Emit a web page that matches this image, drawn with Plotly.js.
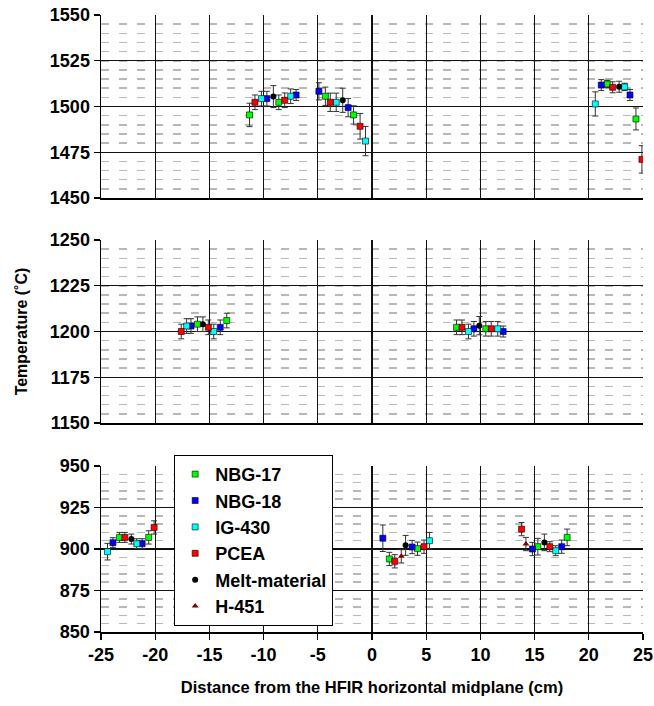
<!DOCTYPE html>
<html>
<head>
<meta charset="utf-8">
<script src="https://cdn.plot.ly/plotly-3.0.1.min.js"></script>
<style>html,body{margin:0;padding:0;background:#fff;}#chart{width:654px;height:706px;}</style>
</head>
<body>
<div id="chart"></div>
<script>
// panel: 0 = bottom (850-950), 1 = middle (1150-1250), 2 = top (1450-1550)
const seriesNames = ["NBG-17", "NBG-18", "IG-430", "PCEA", "Melt-material", "H-451"];

const nbg17X = [-11.3, -8.6, -4.3, -1.7, 21.7, 24.35, -16.1, -13.4, 7.8, 10.5, -23.3, -20.6, 1.6, 4.2, 15.3, 18.0];
const nbg17Y = [1495.4, 1502.3, 1505.6, 1495.4, 1512.3, 1493.2, 1204, 1206, 1202.3, 1201.5, 907, 907, 894, 900.2, 901.4, 907];
const nbg17E = [6.4, 4, 5, 5, 2, 6, 4, 4, 4, 4, 3, 4, 4, 4, 5, 5];
const nbg17P = [2, 2, 2, 2, 2, 2, 1, 1, 1, 1, 0, 0, 0, 0, 0, 0];

const nbg18X = [-9.7, -7.0, -4.9, -2.2, 21.15, 23.8, -16.7, -14.0, 9.4, 12.1, -23.9, -21.2, 1.0, 3.7, 14.8, 17.5];
const nbg18Y = [1504.3, 1506.3, 1508.3, 1499.4, 1511.7, 1506.3, 1203, 1202.3, 1201.5, 1200, 903.8, 903.2, 906.5, 901.2, 900, 901.4];
const nbg18E = [4, 3, 4.7, 5, 3, 3, 4, 4, 4, 3, 3, 3, 8, 4, 4, 4];
const nbg18P = [2, 2, 2, 2, 2, 2, 1, 1, 1, 1, 0, 0, 0, 0, 0, 0];

const ig430X = [-10.2, -7.5, -3.3, -0.6, 20.6, 23.3, -17.1, -14.6, 8.9, 11.6, -24.4, -21.7, 5.3, 16.95];
const ig430Y = [1504.3, 1505.6, 1502.3, 1481.1, 1501.4, 1510.7, 1203, 1200, 1200, 1201.5, 898.4, 903.2, 905, 899];
const ig430E = [4, 4, 5, 8, 6.6, 2, 4, 4, 4, 4, 5, 3, 5, 3];
const ig430P = [2, 2, 2, 2, 2, 2, 1, 1, 1, 1, 0, 0, 0, 0];

const pceaX = [-10.8, -8.05, -3.85, -1.1, 22.2, 24.9, -17.6, -15.1, 8.3, 11.0, -22.8, -20.1, 2.1, 4.8, 13.8, 16.4];
const pceaY = [1502.3, 1503.4, 1502.3, 1489.2, 1510.5, 1471.1, 1200, 1202.3, 1202.3, 1201.5, 907, 913, 892.6, 901.4, 912, 901.4];
const pceaE = [4, 4, 5, 7, 3, 7.5, 4, 4, 4, 4, 3, 4, 4, 4, 4, 3];
const pceaP = [2, 2, 2, 2, 2, 2, 1, 1, 1, 1, 0, 0, 0, 0, 0, 0];

const meltX = [-9.1, -2.7, 22.8, -15.6, 9.9, -22.2, 3.1, 15.9];
const meltY = [1505.4, 1503.4, 1510.8, 1204, 1203.2, 906, 902.2, 904];
const meltE = [6, 6.6, 3, 4, 5, 3, 6, 5];
const meltP = [2, 2, 2, 1, 1, 0, 0, 0];

const h451X = [2.7, 14.2];
const h451Y = [895.6, 903];
const h451E = [4, 4];
const h451P = [0, 0];

const xTickVals = [-25, -20, -15, -10, -5, 0, 5, 10, 15, 20, 25];
const xTickText = ["-25", "-20", "-15", "-10", "-5", "0", "5", "10", "15", "20", "25"];
const bottomTicks = [850, 875, 900, 925, 950];
const middleTicks = [1150, 1175, 1200, 1225, 1250];
const topTicks = [1450, 1475, 1500, 1525, 1550];

const styles = [
  {symbol: "square", color: "#00ff00", size: 6, line: {color: "#000", width: 0.6}},
  {symbol: "square", color: "#0000ff", size: 6, line: {color: "#000", width: 0.6}},
  {symbol: "square", color: "#00ffff", size: 6, line: {color: "#000", width: 0.6}},
  {symbol: "square", color: "#ff0000", size: 6, line: {color: "#000", width: 0.6}},
  {symbol: "circle", color: "#000000", size: 6, line: {color: "#000", width: 0}},
  {symbol: "triangle-up", color: "#800000", size: 6, line: {color: "#000", width: 0}}
];
const allData = [
  [nbg17X, nbg17Y, nbg17E, nbg17P],
  [nbg18X, nbg18Y, nbg18E, nbg18P],
  [ig430X, ig430Y, ig430E, ig430P],
  [pceaX, pceaY, pceaE, pceaP],
  [meltX, meltY, meltE, meltP],
  [h451X, h451Y, h451E, h451P]
];
const axisFor = [["x", "y"], ["x2", "y2"], ["x3", "y3"]];

const traces = [];
allData.forEach(function (d, si) {
  [0, 1, 2].forEach(function (p) {
    const xs = [], ys = [], es = [];
    d[3].forEach(function (pp, i) { if (pp === p) { xs.push(d[0][i]); ys.push(d[1][i]); es.push(d[2][i]); } });
    if (!xs.length) return;
    traces.push({
      type: "scatter", mode: "markers", name: "<b>" + seriesNames[si] + "</b>", legendgroup: seriesNames[si],
      showlegend: p === 0,
      x: xs, y: ys,
      xaxis: axisFor[p][0], yaxis: axisFor[p][1],
      error_y: {type: "data", array: es, visible: true, color: "#333", thickness: 1, width: 3},
      marker: styles[si]
    });
  });
});

const FAM = "Liberation Sans, Arial, sans-serif";
const font = {family: FAM, size: 18, color: "#000", weight: 700};

function xAxis(anchor, showLabels) {
  return {
    anchor: anchor, range: [-25, 25], tickvals: xTickVals, ticktext: xTickText, showticklabels: showLabels,
    ticks: showLabels ? "outside" : "", ticklen: 6, tickcolor: "#000", tickwidth: 1.3,
    showgrid: true, gridcolor: "#111", gridwidth: 1.3, zeroline: false,
    showline: true, linecolor: "#000", linewidth: 1.5, mirror: false,
    tickfont: font, fixedrange: true
  };
}
function yAxis(domain, range, ticks, anchor) {
  return {
    domain: domain, range: range, tickvals: ticks, anchor: anchor,
    ticks: "outside", ticklen: 6, tickcolor: "#000", tickwidth: 1.3,
    showgrid: true, gridcolor: "#111", gridwidth: 1.3, zeroline: false,
    showline: true, linecolor: "#000", linewidth: 1.5,
    minor: {dtick: 5, showgrid: true, gridcolor: "#b8b8b8", gridwidth: 1.5, griddash: "8px,10px", ticks: ""},
    tickfont: font, fixedrange: true
  };
}

const layout = {
  width: 654, height: 706,
  margin: {l: 101, r: 11, t: 15, b: 74},
  paper_bgcolor: "#fff", plot_bgcolor: "#fff",
  font: font,
  showlegend: true,
  legend: {
    x: 0.135, y: 0.287, xanchor: "left", yanchor: "top",
    bgcolor: "#fff", bordercolor: "#000", borderwidth: 1,
    font: {family: FAM, size: 18, color: "#000", weight: 700},
    tracegroupgap: 0, itemwidth: 30
  },
  xaxis: Object.assign(xAxis("y", true), {title: {text: "Distance from the HFIR horizontal midplane (cm)", font: {family: FAM, size: 16.5, weight: 700}, standoff: 17}}),
  xaxis2: xAxis("y2", false),
  xaxis3: xAxis("y3", false),
  yaxis: yAxis([0, 0.269], [850, 950], bottomTicks, "x"),
  yaxis2: Object.assign(yAxis([0.3387, 0.6353], [1150, 1250], middleTicks, "x2"), {title: {text: "Temperature (˚C)", font: {family: FAM, size: 16, weight: 700}, standoff: 18}}),
  yaxis3: yAxis([0.7034, 1], [1450, 1550], topTicks, "x3")
};

Plotly.newPlot("chart", traces, layout, {displayModeBar: false, staticPlot: true});
</script>
</body>
</html>
